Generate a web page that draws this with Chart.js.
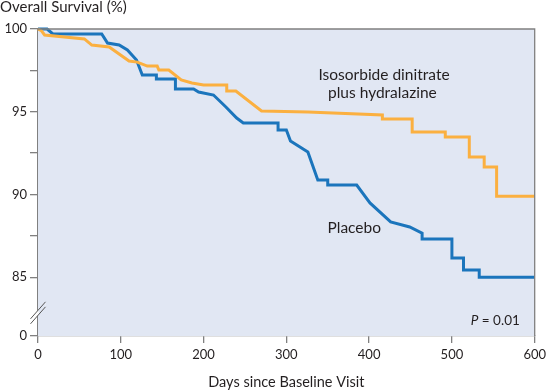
<!DOCTYPE html>
<html>
<head>
<meta charset="utf-8">
<script src="https://cdn.jsdelivr.net/npm/chart.js@4/dist/chart.umd.min.js"></script>
<style>
  html, body { margin: 0; padding: 0; background: #ffffff; }
  #wrap { width: 550px; height: 392px; position: relative; }
</style>
</head>
<body>
<div id="wrap"><canvas id="c" width="550" height="392"></canvas></div>
<script>
// ---- Data ----
const isdnDays = [0, 4, 8, 56, 65, 86, 110, 120, 132, 144, 146, 158, 173, 186, 200, 228, 228, 239, 270, 326, 416, 416, 452, 452, 492, 492, 521, 521, 539, 539, 554, 554, 600];
const isdnSurvival = [100, 99.9, 99.64, 99.4, 99.03, 98.91, 98.07, 98.0, 97.76, 97.76, 97.52, 97.52, 96.92, 96.74, 96.62, 96.62, 96.25, 96.25, 95.05, 94.98, 94.8, 94.56, 94.56, 93.78, 93.78, 93.47, 93.47, 92.27, 92.27, 91.66, 91.66, 89.9, 89.9];

const placeboDays = [0, 11, 18, 77, 84, 98, 108, 119, 126, 143, 143, 166, 166, 188, 194, 212, 227, 240, 248, 290, 290, 300, 305, 326, 338, 350, 350, 385, 401, 426, 449, 464, 464, 500, 500, 514, 514, 533, 533, 600];
const placeboSurvival = [100, 100, 99.7, 99.7, 99.15, 99.03, 98.73, 98.13, 97.22, 97.22, 96.98, 96.98, 96.37, 96.37, 96.19, 96.01, 95.29, 94.62, 94.32, 94.32, 93.9, 93.9, 93.23, 92.57, 90.88, 90.88, 90.57, 90.57, 89.49, 88.34, 88.04, 87.67, 87.31, 87.31, 86.16, 86.16, 85.44, 85.44, 85.0, 85.0];

const seriesNames = ["Isosorbide dinitrate plus hydralazine", "Placebo"];
const xTickValues = [0, 100, 200, 300, 400, 500, 600];
const yTickValues = [85, 87.5, 90, 92.5, 95, 97.5, 100];
const yLabeledTicks = [85, 90, 95, 100];
const yBreakLabel = "0";          // label shown at the bottom of the broken axis
const yAxisBottom = 81.45;        // value position where the "0" sits below the axis break
const yBreakAt = 82.85;           // where the // break mark sits
const xTitle = "Days since Baseline Visit";
const yTitle = "Overall Survival (%)";
const pValueText = ["P", " = 0.01"];

// ---- Styling ----
const FONT = "Lato, 'Open Sans', sans-serif";
const TEXT = "#231f20";
const AXIS = "#808080";
const BLUE = "#1b75bc";
const ORANGE = "#fbb040";
const PLOT_BG = "#e1e7f3";

const toPoints = (xs, ys) => xs.map((x, i) => ({ x: x, y: ys[i] }));

const annotations = [
  { text: "Isosorbide dinitrate", x: 418, y: 97.22, size: 15.5 },
  { text: "plus hydralazine", x: 416, y: 96.13, size: 15.5 },
  { text: "Placebo", x: 382, y: 87.98, size: 15.5 }
];

const plotFrame = {
  id: "plotFrame",
  beforeDatasetsDraw(chart) {
    const { ctx, chartArea: a } = chart;
    ctx.save();
    ctx.fillStyle = PLOT_BG;
    ctx.fillRect(a.left, a.top, a.right - a.left, a.bottom - a.top);
    ctx.restore();
  },
  afterDraw(chart) {
    const { ctx, chartArea: a } = chart;
    const ys = chart.scales.y;
    ctx.save();
    // top & right frame
    ctx.strokeStyle = AXIS;
    ctx.lineWidth = 1.3;
    ctx.beginPath();
    ctx.moveTo(a.left, a.top);
    ctx.lineTo(a.right, a.top);
    ctx.lineTo(a.right, a.bottom);
    ctx.stroke();

    // axis break mark
    const by = ys.getPixelForValue(yBreakAt);
    const bx = a.left;
    const dx = 7.5, dy = 8.5, gap = 2.5;
    ctx.fillStyle = "#ffffff";
    ctx.beginPath();
    ctx.moveTo(bx - dx, by - gap + dy);
    ctx.lineTo(bx + dx, by - gap - dy);
    ctx.lineTo(bx + dx, by + gap - dy);
    ctx.lineTo(bx - dx, by + gap + dy);
    ctx.closePath();
    ctx.fill();
    ctx.fillStyle = PLOT_BG;
    ctx.beginPath();
    ctx.moveTo(bx + 0.7, by - gap - dy * (0.7 / dx));
    ctx.lineTo(bx + dx, by - gap - dy);
    ctx.lineTo(bx + dx, by + gap - dy);
    ctx.lineTo(bx + 0.7, by + gap - dy * (0.7 / dx));
    ctx.closePath();
    ctx.fill();
    ctx.strokeStyle = "#555555";
    ctx.lineWidth = 1;
    ctx.beginPath();
    ctx.moveTo(bx - dx, by - gap + dy);
    ctx.lineTo(bx + dx, by - gap - dy);
    ctx.moveTo(bx - dx, by + gap + dy);
    ctx.lineTo(bx + dx, by + gap - dy);
    ctx.stroke();
    ctx.restore();
  },
  afterDatasetsDraw(chart) {
    const { ctx } = chart;
    const xs = chart.scales.x, ys = chart.scales.y;
    ctx.save();
    ctx.fillStyle = TEXT;
    ctx.textBaseline = "middle";
    annotations.forEach(an => {
      ctx.font = an.size + "px " + FONT;
      ctx.textAlign = "center";
      ctx.fillText(an.text, xs.getPixelForValue(an.x), ys.getPixelForValue(an.y));
    });
    // P value, right aligned
    const px = xs.getPixelForValue(582);
    const py = ys.getPixelForValue(82.36);
    ctx.font = "13.5px " + FONT;
    const w2 = ctx.measureText(pValueText[1]).width;
    ctx.font = "italic 13.5px " + FONT;
    const w1 = ctx.measureText(pValueText[0]).width;
    ctx.textAlign = "left";
    ctx.fillText(pValueText[0], px - w1 - w2, py);
    ctx.font = "13.5px " + FONT;
    ctx.fillText(pValueText[1], px - w2, py);
    ctx.restore();
  }
};

new Chart(document.getElementById("c"), {
  type: "line",
  data: {
    datasets: [
      {
        label: seriesNames[0],
        data: toPoints(isdnDays, isdnSurvival),
        borderColor: ORANGE,
        backgroundColor: ORANGE,
        borderWidth: 3,
        pointRadius: 0,
        tension: 0,
        borderJoinStyle: "miter",
        clip: 4
      },
      {
        label: seriesNames[1],
        data: toPoints(placeboDays, placeboSurvival),
        borderColor: BLUE,
        backgroundColor: BLUE,
        borderWidth: 3,
        pointRadius: 0,
        tension: 0,
        borderJoinStyle: "miter",
        clip: 4
      }
    ]
  },
  options: {
    responsive: false,
    animation: false,
    events: [],
    layout: { padding: { top: 0, right: 12, bottom: 0, left: 0 } },
    plugins: {
      legend: { display: false },
      tooltip: { enabled: false },
      title: {
        display: true,
        text: yTitle,
        align: "start",
        color: TEXT,
        font: { family: FONT, size: 15, weight: "normal", lineHeight: 1.0 },
        padding: { top: 0, bottom: 14 }
      }
    },
    scales: {
      x: {
        type: "linear",
        min: 0,
        max: 600,
        afterBuildTicks: s => { s.ticks = xTickValues.map(v => ({ value: v })); },
        afterFit: s => { s.height = 56; },
        ticks: { color: TEXT, font: { family: FONT, size: 13 }, padding: 4, autoSkip: false, maxRotation: 0 },
        grid: { display: true, drawOnChartArea: false, drawTicks: true, tickLength: 7, color: AXIS, lineWidth: 1.3 },
        border: { display: true, color: AXIS, width: 1.3 },
        title: {
          display: true,
          text: xTitle,
          color: TEXT,
          font: { family: FONT, size: 14.5, lineHeight: 1.2 },
          padding: { top: 4, bottom: 1 }
        }
      },
      y: {
        type: "linear",
        min: yAxisBottom,
        max: 100,
        afterBuildTicks: s => { s.ticks = [yAxisBottom].concat(yTickValues).map(v => ({ value: v })); },
        afterFit: s => { s.width = 38; },
        ticks: {
          color: TEXT,
          font: { family: FONT, size: 13 },
          padding: 3,
          autoSkip: false,
          callback: v => (v === yAxisBottom ? yBreakLabel : (yLabeledTicks.includes(v) ? String(v) : ""))
        },
        grid: { display: true, drawOnChartArea: false, drawTicks: true, tickLength: 8, color: AXIS, lineWidth: 1.3 },
        border: { display: true, color: AXIS, width: 1.3 }
      }
    }
  },
  plugins: [plotFrame]
});
</script>
</body>
</html>
